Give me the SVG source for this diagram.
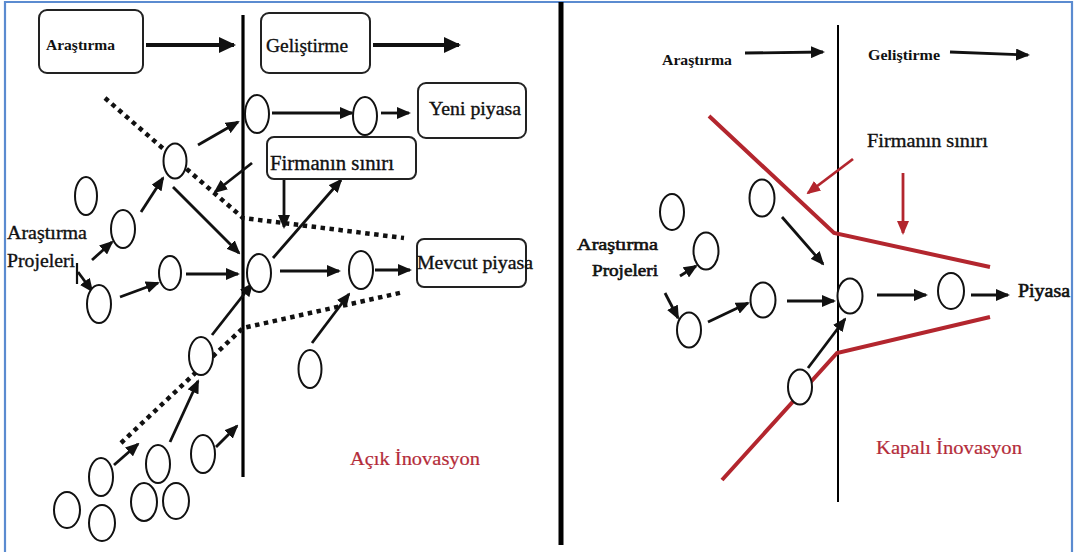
<svg xmlns="http://www.w3.org/2000/svg" width="1075" height="552" viewBox="0 0 1075 552">
<defs>
<style>
.t{font-family:"Liberation Serif","DejaVu Serif",serif;fill:#111;stroke:#111;stroke-width:0.35}
.b{font-weight:bold;stroke-width:0}
.red{fill:#b42c3a;stroke:#b42c3a;stroke-width:0.2}
.box{fill:#fff;stroke:#222;stroke-width:2}
.c{fill:#fff;stroke:#111;stroke-width:2}
.a{stroke:#111;stroke-width:2.8;fill:none;marker-end:url(#ah)}
.ab{stroke:#111;stroke-width:4;fill:none;marker-end:url(#ahb)}
.ar{stroke:#b3262e;stroke-width:2.8;fill:none;marker-end:url(#ahr)}
.dot{stroke:#111;stroke-width:4.5;fill:none;stroke-dasharray:4.5 4.5}
.rl{stroke:#b3262e;stroke-width:4;fill:none}
</style>
<marker id="ah" markerUnits="userSpaceOnUse" markerWidth="14" markerHeight="12" refX="12" refY="6" orient="auto"><path d="M0,0L14,6L0,12z" fill="#111"/></marker>
<marker id="ahb" markerUnits="userSpaceOnUse" markerWidth="17" markerHeight="16" refX="15" refY="8" orient="auto"><path d="M0,0L17,8L0,16z" fill="#111"/></marker>
<marker id="ahr" markerUnits="userSpaceOnUse" markerWidth="14" markerHeight="12" refX="12" refY="6" orient="auto"><path d="M0,0L14,6L0,12z" fill="#b3262e"/></marker>
</defs>
<rect width="1075" height="552" fill="#fff"/>
<g id="frame">
<path d="M5,560V2H1072V560" fill="none" stroke="#5b8bd0" stroke-width="2.2"/>
<line x1="561" y1="2" x2="561" y2="545" stroke="#000" stroke-width="5"/>
</g>
<g id="dividers">
<line x1="243" y1="15" x2="243" y2="477" stroke="#000" stroke-width="3.2"/>
<line x1="838" y1="25" x2="838" y2="502" stroke="#000" stroke-width="2"/>
</g>
<g id="connectors">
<line class="ab" x1="146" y1="45" x2="234" y2="45"/>
<line class="ab" x1="373" y1="45" x2="459" y2="45"/>
<polyline class="dot" points="105,98 243,218 404,238"/>
<polyline class="dot" points="121,443 243,328 404,292"/>
<line class="a" x1="272" y1="113" x2="352" y2="113"/>
<line class="a" x1="381" y1="113" x2="409" y2="113"/>
<line class="a" x1="141" y1="212" x2="163" y2="178"/>
<line class="a" x1="198" y1="145" x2="238" y2="122"/>
<line class="a" x1="173" y1="187" x2="239" y2="253"/>
<line class="a" x1="92" y1="260" x2="112" y2="242"/>
<line x1="77" y1="263" x2="77" y2="284" stroke="#111" stroke-width="2.2"/>
<line class="a" x1="78" y1="272" x2="92" y2="291"/>
<line class="a" x1="120" y1="297" x2="158" y2="283"/>
<line class="a" x1="186" y1="274" x2="238" y2="274"/>
<line class="a" x1="280" y1="271" x2="339" y2="271"/>
<line class="a" x1="375" y1="270" x2="410" y2="270"/>
<line class="a" x1="273" y1="258" x2="341" y2="180"/>
<line class="a" x1="284" y1="180" x2="284" y2="227"/>
<line class="a" x1="252" y1="163" x2="215" y2="192"/>
<line class="a" x1="212" y1="335" x2="252" y2="284"/>
<line class="a" x1="170" y1="442" x2="198" y2="381"/>
<line class="a" x1="114" y1="465" x2="138" y2="444"/>
<line class="a" x1="216" y1="447" x2="237" y2="426"/>
<line class="a" x1="312" y1="343" x2="349" y2="294"/>
<polyline class="rl" points="709,116 834,233 990,267"/>
<polyline class="rl" points="722,480 837,353 990,317"/>
<line class="a" x1="745" y1="53" x2="823" y2="52"/>
<line class="a" x1="950" y1="52" x2="1028" y2="55"/>
<line class="ar" x1="853" y1="159" x2="808" y2="193"/>
<line class="ar" x1="903" y1="173" x2="903" y2="233"/>
<line class="a" x1="782" y1="217" x2="823" y2="264"/>
<line class="a" x1="680" y1="276" x2="696" y2="266"/>
<line class="a" x1="665" y1="293" x2="678" y2="318"/>
<line class="a" x1="708" y1="322" x2="748" y2="303"/>
<line class="a" x1="787" y1="301" x2="834" y2="301"/>
<line class="a" x1="877" y1="295" x2="926" y2="295"/>
<line class="a" x1="971" y1="295" x2="1008" y2="295"/>
<line class="a" x1="808" y1="368" x2="845" y2="319"/>
</g>
<g id="node-arastirma-box"><rect class="box" x="39" y="10" width="104" height="63" rx="8"/><text class="t b" x="46" y="50" font-size="15" textLength="69" lengthAdjust="spacingAndGlyphs">Araştırma</text></g>
<g id="node-gelistirme-box"><rect class="box" x="261" y="13" width="109" height="60" rx="8"/><text class="t" x="266" y="52" font-size="19" textLength="82" lengthAdjust="spacingAndGlyphs">Geliştirme</text></g>
<g id="node-yeni-piyasa"><rect class="box" x="418" y="83" width="108" height="55" rx="8"/><text class="t" x="429" y="115" font-size="18" textLength="92" lengthAdjust="spacingAndGlyphs">Yeni piyasa</text></g>
<g id="node-firmanin-siniri-l"><rect class="box" x="267" y="137" width="149" height="42" rx="7"/><text class="t" x="270" y="170" font-size="20" textLength="124" lengthAdjust="spacingAndGlyphs">Firmanın sınırı</text></g>
<g id="node-mevcut-piyasa"><rect class="box" x="417" y="239" width="109" height="48" rx="7"/><text class="t" x="417" y="269" font-size="18" textLength="116" lengthAdjust="spacingAndGlyphs">Mevcut piyasa</text></g>
<g id="node-arastirma-projeleri-l"><text class="t" x="7" y="239" font-size="18" textLength="80" lengthAdjust="spacingAndGlyphs">Araştırma</text><text class="t" x="7" y="267" font-size="18" textLength="68" lengthAdjust="spacingAndGlyphs">Projeleri</text></g>
<g id="node-acik-inovasyon"><text class="t red" x="350" y="465" font-size="19" textLength="130" lengthAdjust="spacingAndGlyphs">Açık İnovasyon</text></g>
<g id="nodes-left">
<ellipse id="n-a" class="c" cx="257" cy="114" rx="12" ry="19"/>
<ellipse id="n-b" class="c" cx="365" cy="116" rx="12" ry="19"/>
<ellipse id="n-c1" class="c" cx="175" cy="161" rx="11.5" ry="17.5"/>
<ellipse id="n-c2" class="c" cx="86" cy="196" rx="11" ry="19"/>
<ellipse id="n-c3" class="c" cx="123" cy="229" rx="12" ry="19"/>
<ellipse id="n-c4" class="c" cx="170" cy="273" rx="11" ry="17"/>
<ellipse id="n-c5" class="c" cx="259" cy="273" rx="12" ry="19"/>
<ellipse id="n-c6" class="c" cx="361" cy="270" rx="12" ry="19"/>
<ellipse id="n-c7" class="c" cx="99" cy="304" rx="12" ry="19"/>
<ellipse id="n-c8" class="c" cx="201" cy="356" rx="12" ry="19"/>
<ellipse id="n-c9" class="c" cx="310" cy="369" rx="11.5" ry="19"/>
<ellipse id="n-c10" class="c" cx="101" cy="477" rx="12" ry="19"/>
<ellipse id="n-c11" class="c" cx="158" cy="464" rx="12" ry="19"/>
<ellipse id="n-c12" class="c" cx="203" cy="454" rx="12" ry="19"/>
<ellipse id="n-c13" class="c" cx="67" cy="510" rx="13" ry="18"/>
<ellipse id="n-c14" class="c" cx="102" cy="523" rx="13" ry="18"/>
<ellipse id="n-c15" class="c" cx="144" cy="502" rx="13" ry="19"/>
<ellipse id="n-c16" class="c" cx="176" cy="501" rx="13" ry="18"/>
</g>
<g id="node-arastirma-r"><text class="t b" x="662" y="65" font-size="15" textLength="70" lengthAdjust="spacingAndGlyphs">Araştırma</text></g>
<g id="node-gelistirme-r"><text class="t b" x="868" y="60" font-size="15" textLength="72" lengthAdjust="spacingAndGlyphs">Geliştirme</text></g>
<g id="node-firmanin-siniri-r"><text class="t" x="867" y="147" font-size="18" textLength="121" lengthAdjust="spacingAndGlyphs">Firmanın sınırı</text></g>
<g id="node-arastirma-projeleri-r"><text class="t" x="577" y="250" font-size="17" textLength="81" lengthAdjust="spacingAndGlyphs" style="stroke-width:0.6">Araştırma</text><text class="t" x="592" y="276" font-size="17" textLength="66" lengthAdjust="spacingAndGlyphs" style="stroke-width:0.6">Projeleri</text></g>
<g id="node-piyasa"><text class="t" x="1018" y="297" font-size="18" textLength="52" lengthAdjust="spacingAndGlyphs" style="stroke-width:0.6">Piyasa</text></g>
<g id="node-kapali-inovasyon"><text class="t red" x="876" y="454" font-size="19" textLength="146" lengthAdjust="spacingAndGlyphs">Kapalı İnovasyon</text></g>
<g id="nodes-right">
<ellipse id="r1" class="c" cx="762" cy="198" rx="12.5" ry="18.5"/>
<ellipse id="r2" class="c" cx="672" cy="212" rx="12" ry="18"/>
<ellipse id="r3" class="c" cx="706" cy="251" rx="12.5" ry="18.5"/>
<ellipse id="r4" class="c" cx="689" cy="330" rx="12" ry="17.5"/>
<ellipse id="r5" class="c" cx="763" cy="300" rx="12.5" ry="17.5"/>
<ellipse id="r6" class="c" cx="850" cy="296" rx="12.5" ry="17.5"/>
<ellipse id="r7" class="c" cx="951" cy="291" rx="13" ry="18"/>
<ellipse id="r8" class="c" cx="800" cy="387" rx="12" ry="17.5"/>
</g>
</svg>
